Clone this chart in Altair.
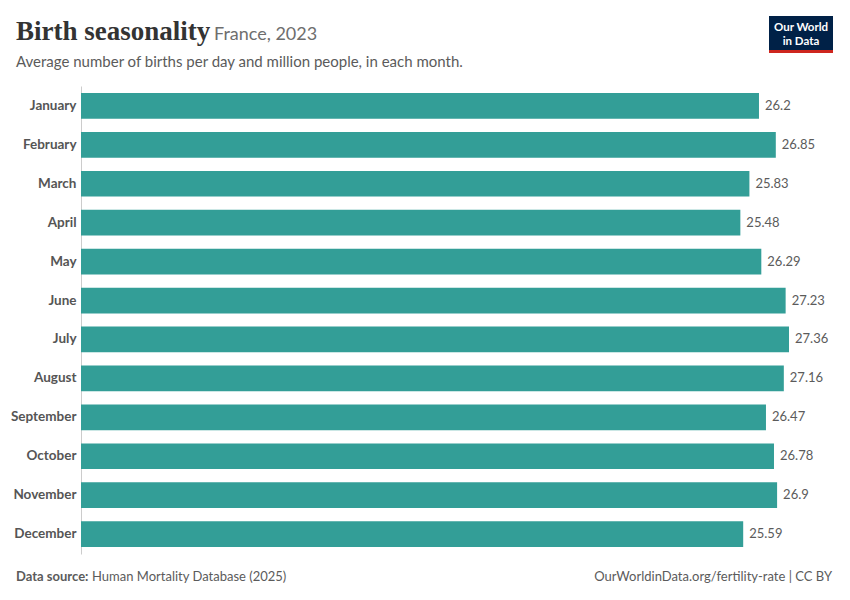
import altair as alt
import pandas as pd

months = ["January", "February", "March", "April", "May", "June", "July",
          "August", "September", "October", "November", "December"]
values = [26.2, 26.85, 25.83, 25.48, 26.29, 27.23, 27.36, 27.16, 26.47, 26.78, 26.9, 25.59]
labels = ["26.2", "26.85", "25.83", "25.48", "26.29", "27.23", "27.36", "27.16",
          "26.47", "26.78", "26.9", "25.59"]

df = pd.DataFrame({"month": months, "value": values, "label": labels})

W, H = 708, 468
OX, OY = 81, 86  # plot origin in page coords

base = alt.Chart(df)

bars = base.mark_bar(color="#339e97").encode(
    x=alt.X("value:Q", scale=alt.Scale(domain=[0, 27.36], nice=False, zero=True), axis=None),
    y=alt.Y("month:N", sort=months, title=None,
            scale=alt.Scale(paddingInner=0.34, paddingOuter=0.18),
            axis=alt.Axis(labelFont="Lato", labelFontSize=13.5, labelFontWeight="bold",
                          labelColor="#555555", ticks=False, domain=True,
                          domainColor="#cccccc", labelPadding=5)),
)

text = base.mark_text(align="left", dx=6, font="Lato", fontSize=13, color="#5b5b5b").encode(
    x=alt.X("value:Q"),
    y=alt.Y("month:N", sort=months),
    text="label:N",
)

def t(s, x, y, **kw):
    return alt.Chart(pd.DataFrame({"t": [s]})).mark_text(align=kw.pop("align", "left"), baseline="alphabetic", **kw).encode(
        x=alt.value(x - OX), y=alt.value(y - OY), text="t:N")

title = t("Birth seasonality", 16, 40, font="Liberation Serif", fontSize=27, color="#333333", fontWeight="bold")
sub_title = t("France, 2023", 214, 40, font="Lato", fontSize=18, color="#6e6e6e")
subtitle = t("Average number of births per day and million people, in each month.", 16, 67,
             font="Lato", fontSize=15, color="#5b5b5b")
src1 = t("Data source:", 16, 581, font="Lato", fontSize=13, color="#5b5b5b", fontWeight="bold")
src2 = t("Human Mortality Database (2025)", 92, 581, font="Lato", fontSize=13, color="#5b5b5b")
src3 = t("OurWorldinData.org/fertility-rate | CC BY", 832, 581, font="Lato", fontSize=13,
         color="#5b5b5b", align="right")

logo_box = alt.Chart(pd.DataFrame({"a": [0]})).mark_rect(color="#002147").encode(
    x=alt.value(769 - OX), x2=alt.value(833 - OX), y=alt.value(16 - OY), y2=alt.value(50 - OY))
logo_red = alt.Chart(pd.DataFrame({"a": [0]})).mark_rect(color="#ce261e").encode(
    x=alt.value(769 - OX), x2=alt.value(833 - OX), y=alt.value(50 - OY), y2=alt.value(53 - OY))
logo1 = t("Our World", 801, 31, font="Lato", fontSize=11.5, color="white", align="center", fontWeight="bold")
logo2 = t("in Data", 801, 45, font="Lato", fontSize=11.5, color="white", align="center", fontWeight="bold")

chart = alt.layer(bars, text, title, sub_title, subtitle, src1, src2, src3,
                  logo_box, logo_red, logo1, logo2).properties(
    width=W, height=H,
    background="white",
    autosize=alt.AutoSizeParams(type="none"),
    padding={"left": OX - 8, "top": OY - 8, "right": 53, "bottom": 48},
).configure_view(stroke=None)

chart.save("out.html", embed_options={"renderer": "svg", "actions": False})
